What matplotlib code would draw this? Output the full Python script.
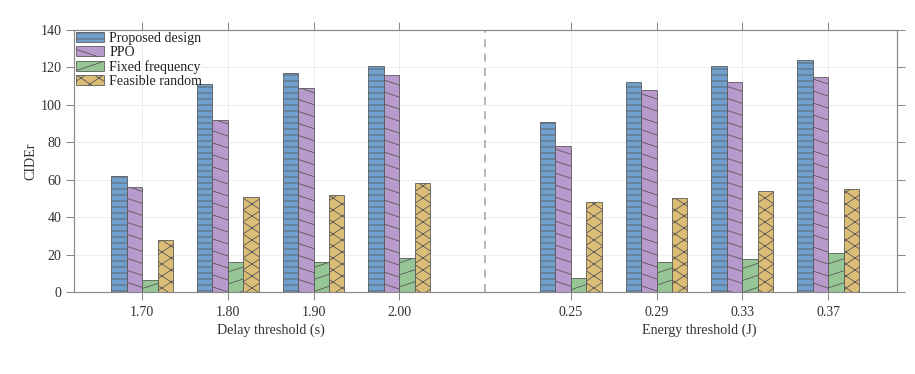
import matplotlib
matplotlib.use("Agg")
import matplotlib.pyplot as plt
import matplotlib.hatch as mhatch
from matplotlib.path import Path
import numpy as np
from matplotlib.transforms import blended_transform_factory

# ---- data ----
delay_labels = ["1.70", "1.80", "1.90", "2.00"]
energy_labels = ["0.25", "0.29", "0.33", "0.37"]
series_names = ["Proposed design", "PPO", "Fixed frequency", "Feasible random"]

proposed = [62, 111, 117, 121, 91, 112, 121, 124]
ppo = [56, 92, 109, 116, 78, 108, 112, 115]
fixed = [6.5, 16, 16, 18, 7.5, 16, 17.5, 21]
feasible = [28, 51, 52, 58, 48, 50, 54, 55]

group_pos = [1, 2, 3, 4, 6, 7, 8, 9]
divider_pos = 5

colors = ["#72a0cc", "#b89acc", "#96c596", "#dcbd76"]
hatches = ["--", "\\", "/", "x"]


# shallow-slope diagonal hatches (closer to the reference's hatch style)
class SlopedHatch(mhatch.HatchPatternBase):
    def __init__(self, hatch, density):
        specs = []
        c = hatch.count("\\")
        if c:
            specs.append((int(c * density), 2, -1))
        c = hatch.count("/")
        if c:
            specs.append((int(c * density), 2, 1))
        c = hatch.count("x")
        if c:
            specs.append((int(c * density), 4, 1))
            specs.append((int(c * density), 4, -1))
        self.lines = []
        for n, k, sgn in specs:
            for j in range(-k - 1, n + k + 2):
                y0 = j / n
                self.lines.append(((0.0, y0), (1.0, y0 + sgn * k / n)))
        self.num_vertices = 2 * len(self.lines)

    def set_vertices_and_codes(self, vertices, codes):
        for i, (a, b) in enumerate(self.lines):
            vertices[2 * i] = a
            vertices[2 * i + 1] = b
            codes[2 * i] = Path.MOVETO
            codes[2 * i + 1] = Path.LINETO


mhatch._hatch_types = [mhatch.HorizontalHatch, mhatch.VerticalHatch, SlopedHatch]

plt.rcParams["font.family"] = ["Liberation Serif", "DejaVu Serif"]
plt.rcParams["hatch.linewidth"] = 0.8

FS = 14
DPI = 72
fig = plt.figure(figsize=(915 / DPI, 374 / DPI), dpi=DPI)
ax = fig.add_axes([73.5 / 915, 1 - 292 / 374, (896.7 - 73.5) / 915, 262 / 374])

width = 0.18
values = [proposed, ppo, fixed, feasible]
x = np.array(group_pos, dtype=float)
for i, (vals, name) in enumerate(zip(values, series_names)):
    ax.bar(x + (i - 1.5) * width, vals, width, color=colors[i], edgecolor="#555555",
           linewidth=0.8, hatch=hatches[i], label=name, zorder=3)

ax.axvline(divider_pos, color="#a6a6a6", linestyle=(0, (5, 4)), linewidth=1.6, zorder=2)

ax.set_xlim(0.2, 9.8)
ax.set_ylim(0, 140)
ax.set_yticks(np.arange(0, 141, 20))
ax.set_xticks(group_pos)
ax.set_xticklabels(delay_labels + energy_labels)

ax.set_axisbelow(True)
ax.grid(True, color="#ececec", linewidth=0.9)
for s in ax.spines.values():
    s.set_color("#8a8a8a")
    s.set_linewidth(1.2)
    s.set_zorder(6)

ax.tick_params(axis="both", which="both", direction="out", length=8, width=1.0,
               color="#8a8a8a", labelcolor="#333333", labelsize=FS,
               top=True, right=True)
ax.tick_params(axis="x", pad=6)
ax.tick_params(axis="y", pad=4)

ax.set_ylabel("CIDEr", fontsize=FS, color="#333333")
ax.yaxis.set_label_coords(-0.044, 0.5)

trans = blended_transform_factory(ax.transData, ax.transAxes)
ax.text(2.5, -0.145, "Delay threshold (s)", transform=trans, ha="center", va="center",
        fontsize=FS, color="#333333")
ax.text(7.5, -0.145, "Energy threshold (J)", transform=trans, ha="center", va="center",
        fontsize=FS, color="#333333")

leg = ax.legend(loc="upper left", frameon=False, fontsize=FS, borderaxespad=0.05,
                borderpad=0.1, handlelength=2.05, handleheight=0.7, labelspacing=0.08,
                handletextpad=0.35)
leg.set_zorder(5)
for t in leg.get_texts():
    t.set_color("#222222")

fig.savefig("out.png", dpi=DPI)
